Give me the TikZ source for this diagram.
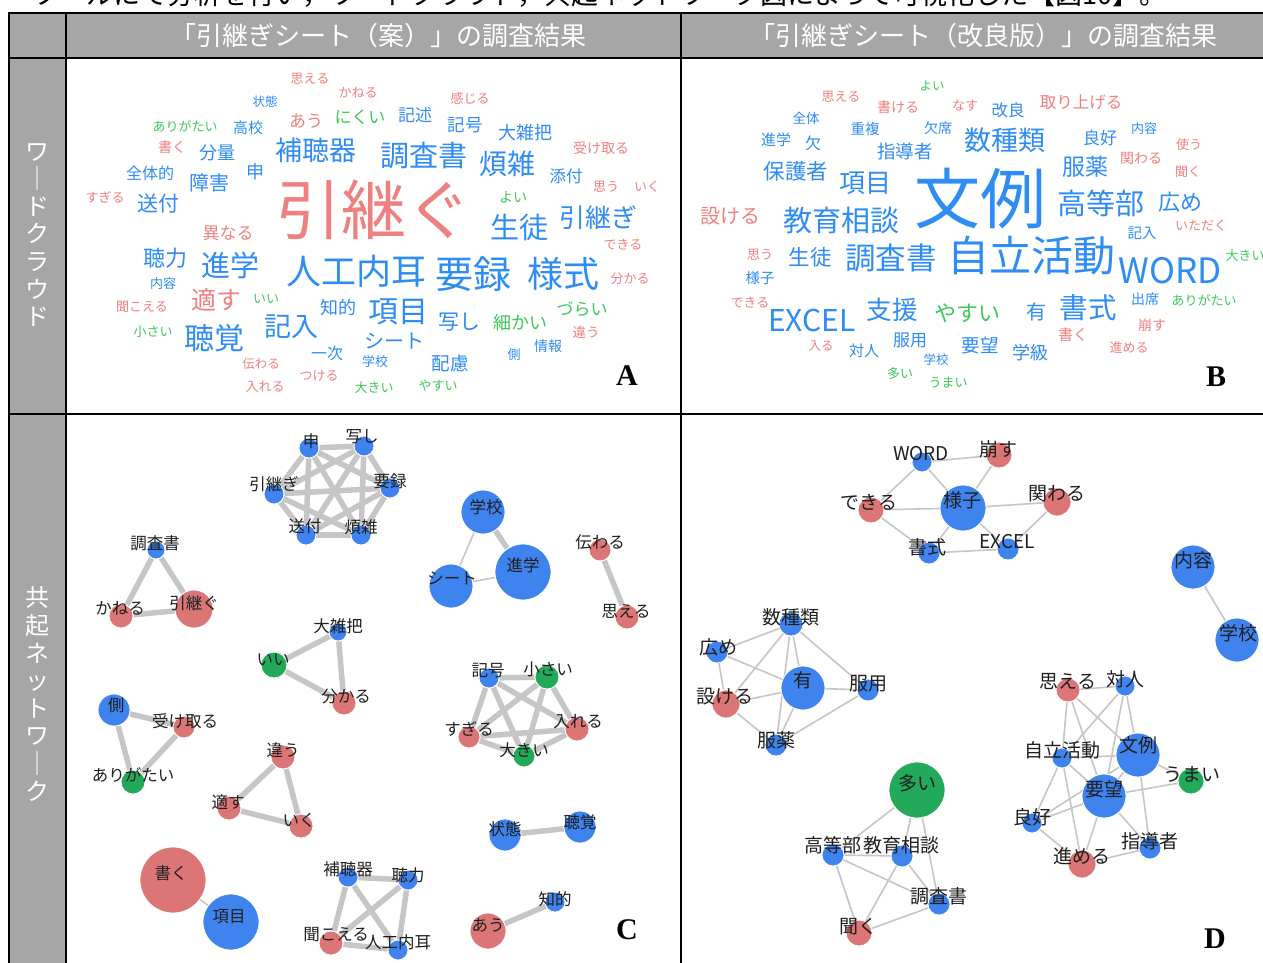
\documentclass[tikz,border=0pt]{standalone}
\usepackage{fontspec}
\newfontfamily\jp{Noto Sans CJK JP}
\newfontfamily\lserif{Liberation Serif}
\definecolor{hdgray}{HTML}{A6A6A6}
\definecolor{wblue}{HTML}{2E8CF5}
\definecolor{wred}{HTML}{F08080}
\definecolor{wgreen}{HTML}{3CC95A}
\definecolor{nblue}{HTML}{3F83EE}
\definecolor{nred}{HTML}{DC7676}
\definecolor{ngreen}{HTML}{22A95A}
\definecolor{edgegray}{HTML}{C6C6C6}
\pgfdeclarelayer{back}
\pgfdeclarelayer{edges}
\pgfsetlayers{back,edges,main}
\tikzset{
  wb/.style={font=\jp\fontsize{#1}{#1}\selectfont, text=wblue, inner sep=0pt},
  wr/.style={font=\jp\fontsize{#1}{#1}\selectfont, text=wred, inner sep=0pt},
  wg/.style={font=\jp\fontsize{#1}{#1}\selectfont, text=wgreen, inner sep=0pt},
  circ/.style={circle, inner sep=0pt, minimum size={2*#1pt}, draw=white, line width=0.8pt},
  lbl/.style={font=\jp\fontsize{16.5}{16.5}\selectfont, text=black!88, inner sep=0pt},
  lbld/.style={font=\jp\fontsize{19}{19}\selectfont, text=black!88, inner sep=0pt},
  ek/.style={draw=edgegray, line width=5.5pt},
  et/.style={draw=edgegray, line width=1.6pt},
  hd/.style={font=\jp\fontsize{26}{26}\selectfont, text=white, inner sep=0pt},
  side/.style={font=\jp\fontsize{24}{27.6}\selectfont, text=white, inner sep=0pt, align=center},
  plab/.style={font=\lserif\bfseries\fontsize{30}{30}\selectfont, inner sep=0pt},
  grid/.style={line width=2.6pt, draw=black}
}
\newcommand\cnode[8]{\node[circ=#4, fill=#5] (#1) at (#2,#3) {}; \node[lbl] (#1l) at (#7,#8) {#6};}
\newcommand\dnode[8]{\node[circ=#4, fill=#5] (#1) at (#2,#3) {}; \node[lbld] (#1l) at (#7,#8) {#6};}
\begin{document}
\begin{tikzpicture}[x=1pt,y=-1pt]
\useasboundingbox (0,0) rectangle (1263,963);
\begin{pgfonlayer}{back}
\fill[white] (0,0) rectangle (1263,963);
\fill[hdgray] (9,13) rectangle (1263,58);
\fill[hdgray] (9,58) rectangle (66,963);
\end{pgfonlayer}
% top running text (cut)
\node[anchor=base west, font=\jp\fontsize{27}{27}\selectfont, inner sep=0pt] (toptext) at (32,5) {ツールにて分析を行い，ワードクラウド，共起ネットワーク図によって可視化した【図10】。};
% headers
\node[hd] (h1) at (378,36) {「引継ぎシート（案）」の調査結果};
\node[hd] (h2) at (983,36) {「引継ぎシート（改良版）」の調査結果};
\node[side] (s1) at (37,235) {ワ\\｜\\ド\\ク\\ラ\\ウ\\ド};
\node[side] (s2) at (37,694) {共\\起\\ネ\\ッ\\ト\\ワ\\｜\\ク};
% ---------- word cloud A ----------
\node[wr=13] (a1) at (310,79) {思える};
\node[wr=13] (a2) at (358,93) {かねる};
\node[wr=13] (a3) at (470,98) {感じる};
\node[wb=12.5] (a4) at (265,102) {状態};
\node[wg=13] (a5) at (185,126) {ありがたい};
\node[wb=15] (a6) at (248,128) {高校};
\node[wr=17] (a7) at (306,121) {あう};
\node[wg=17] (a8) at (360,117) {にくい};
\node[wb=17] (a9) at (415,115) {記述};
\node[wb=17.5] (a10) at (465,125) {記号};
\node[wb=18] (a11) at (525,133) {大雑把};
\node[wr=14] (a12) at (601,148) {受け取る};
\node[wr=14] (a13) at (172,147) {書く};
\node[wb=18] (a14) at (217,153) {分量};
\node[wb=27] (a15) at (316,150) {補聴器};
\node[wb=29] (a16) at (424,156) {調査書};
\node[wb=28] (a17) at (507,164) {煩雑};
\node[wb=16.5] (a18) at (566,176) {添付};
\node[wb=16] (a19) at (150,173) {全体的};
\node[wb=18] (a20) at (255,172) {申};
\node[wb=20] (a21) at (209,183) {障害};
\node[wr=13] (a22) at (606,187) {思う};
\node[wr=13] (a23) at (647,187) {いく};
\node[wr=13] (a24) at (105,197) {すぎる};
\node[wb=21] (a25) at (158,204) {送付};
\node[wr=65] (a26) at (374,210) {引継ぐ};
\node[wg=14] (a27) at (513,197) {よい};
\node[wb=29] (a28) at (519,227) {生徒};
\node[wb=26] (a29) at (598,218) {引継ぎ};
\node[wr=13] (a30) at (623,245) {できる};
\node[wr=17] (a31) at (228,233) {異なる};
\node[wb=22] (a32) at (165,258) {聴力};
\node[wb=29] (a33) at (230,265) {進学};
\node[wb=35] (a34) at (356,271) {人工内耳};
\node[wb=38] (a35) at (473,274) {要録};
\node[wb=36] (a36) at (563,274) {様式};
\node[wr=13] (a37) at (630,279) {分かる};
\node[wb=13] (a38) at (163,284) {内容};
\node[wr=25] (a39) at (216,300) {適す};
\node[wg=13] (a40) at (266,299) {いい};
\node[wr=13] (a41) at (142,307) {聞こえる};
\node[wb=18] (a42) at (338,308) {知的};
\node[wb=30] (a43) at (398,312) {項目};
\node[wb=21] (a44) at (459,322) {写し};
\node[wg=18] (a45) at (520,323) {細かい};
\node[wg=17] (a46) at (582,309) {づらい};
\node[wr=13.5] (a47) at (586,332) {違う};
\node[wb=27] (a48) at (291,327) {記入};
\node[wg=13] (a49) at (153,332) {小さい};
\node[wb=30] (a50) at (214,338) {聴覚};
\node[wb=20] (a51) at (394,341) {シート};
\node[wb=16] (a52) at (327,353) {一次};
\node[wb=14] (a53) at (548,346) {情報};
\node[wb=13] (a54) at (514,355) {側};
\node[wb=13] (a55) at (375,362) {学校};
\node[wb=18.5] (a56) at (450,363) {配慮};
\node[wr=12.5] (a57) at (261,364) {伝わる};
\node[wr=13] (a58) at (319,376) {つける};
\node[wr=13] (a59) at (265,387) {入れる};
\node[wg=13] (a60) at (374,388) {大きい};
\node[wg=13] (a61) at (438,386) {やすい};
\node[plab] (pA) at (627,376) {A};
% ---------- word cloud B ----------
\node[wg=12.5] (b1) at (932,86) {よい};
\node[wr=13] (b2) at (841,97) {思える};
\node[wr=14] (b3) at (898,107) {書ける};
\node[wr=13] (b4) at (965,106) {なす};
\node[wb=16.5] (b5) at (1008,110) {改良};
\node[wr=16.5] (b6) at (1081,102) {取り上げる};
\node[wb=13.5] (b7) at (806,118) {全体};
\node[wb=14.5] (b8) at (865,129) {重複};
\node[wb=14] (b9) at (938,128) {欠席};
\node[wb=13] (b10) at (1144,129) {内容};
\node[wb=15] (b11) at (776,140) {進学};
\node[wb=16] (b12) at (813,143) {欠};
\node[wb=18.5] (b13) at (905,151) {指導者};
\node[wb=27] (b14) at (1005,140) {数種類};
\node[wb=17] (b15) at (1100,138) {良好};
\node[wr=13] (b16) at (1189,145) {使う};
\node[wr=14] (b17) at (1141,158) {関わる};
\node[wb=21.5] (b18) at (796,171) {保護者};
\node[wb=23] (b19) at (1085,167) {服薬};
\node[wr=13] (b20) at (1188,172) {聞く};
\node[wb=26] (b21) at (865,183) {項目};
\node[wb=66] (b22) at (980,198) {文例};
\node[wb=29] (b23) at (1101,203) {高等部};
\node[wb=22] (b24) at (1180,202) {広め};
\node[wr=13] (b25) at (1201,226) {いただく};
\node[wr=20] (b26) at (730,216) {設ける};
\node[wb=29] (b27) at (841,221) {教育相談};
\node[wb=14.5] (b28) at (1142,233) {記入};
\node[wr=13] (b29) at (760,255) {思う};
\node[wb=21.5] (b30) at (810,257) {生徒};
\node[wb=30.5] (b31) at (891,258) {調査書};
\node[wb=42] (b32) at (1031,256) {自立活動};
\node[wb=35] (b33) at (1170,271) {WORD};
\node[wg=13] (b34) at (1245,256) {大きい};
\node[wb=14.5] (b35) at (760,278) {様子};
\node[wr=13] (b36) at (750,303) {できる};
\node[wb=25.5] (b37) at (892,310) {支援};
\node[wg=22] (b38) at (967,313) {やすい};
\node[wb=20] (b39) at (1036,312) {有};
\node[wb=28.5] (b40) at (1088,308) {書式};
\node[wb=14] (b41) at (1145,299) {出席};
\node[wg=13] (b42) at (1204,300) {ありがたい};
\node[wb=30] (b43) at (812,321) {EXCEL};
\node[wr=14] (b44) at (1152,325) {崩す};
\node[wr=15] (b45) at (1073,335) {書く};
\node[wb=17] (b46) at (910,340) {服用};
\node[wr=12.5] (b47) at (821,346) {入る};
\node[wb=15] (b48) at (864,351) {対人};
\node[wb=18.5] (b49) at (980,345) {要望};
\node[wb=18] (b50) at (1030,353) {学級};
\node[wr=13] (b51) at (1129,348) {進める};
\node[wb=12.5] (b52) at (936,360) {学校};
\node[wg=13] (b53) at (900,374) {多い};
\node[wg=13] (b54) at (948,383) {うまい};
\node[plab] (pB) at (1216,377) {B};
% ---------- network C ----------
\cnode{cA}{309}{448}{10}{nblue}{申}{311}{441}
\cnode{cB}{364}{446}{10}{nblue}{写し}{362}{437}
\cnode{cC}{390}{488}{10}{nblue}{要録}{390}{481}
\cnode{cD}{361}{535}{10}{nblue}{煩雑}{361}{527}
\cnode{cE}{306}{535}{10}{nblue}{送付}{305}{526}
\cnode{cF}{274}{494}{10}{nblue}{引継ぎ}{274}{484}
\cnode{cG}{156}{550}{9}{nblue}{調査書}{155}{543}
\cnode{cH}{121}{616}{12}{nred}{かねる}{120}{608}
\cnode{cI}{194}{609}{19}{nred}{引継ぐ}{194}{603}
\cnode{cJ}{483}{512}{22}{nblue}{学校}{486}{507}
\cnode{cK}{523}{572}{28}{nblue}{進学}{523}{565}
\cnode{cL}{451}{586}{22}{nblue}{シート}{452}{578}
\cnode{cM}{600}{550}{11}{nred}{伝わる}{600}{542}
\cnode{cN}{627}{617}{12}{nred}{思える}{626}{611}
\cnode{cO}{338}{632}{9}{nblue}{大雑把}{338}{626}
\cnode{cP}{274}{665}{13}{ngreen}{いい}{273}{660}
\cnode{cQ}{344}{703}{12}{nred}{分かる}{346}{696}
\cnode{cR}{489}{678}{10}{nblue}{記号}{488}{671}
\cnode{cS}{547}{677}{12}{ngreen}{小さい}{548}{669}
\cnode{cT}{577}{729}{12}{nred}{入れる}{578}{722}
\cnode{cU}{524}{756}{11}{ngreen}{大きい}{524}{750}
\cnode{cV}{469}{737}{11}{nred}{すぎる}{469}{729}
\cnode{cW}{114}{710}{16}{nblue}{側}{116}{705}
\cnode{cX}{184}{727}{11}{nred}{受け取る}{185}{721}
\cnode{cY}{133}{782}{12}{ngreen}{ありがたい}{133}{775}
\cnode{cZ}{283}{757}{12}{nred}{違う}{283}{750}
\cnode{ca}{229}{808}{12}{nred}{適す}{228}{802}
\cnode{cb}{301}{826}{12}{nred}{いく}{299}{820}
\cnode{cc}{505}{835}{16}{nblue}{状態}{505}{829}
\cnode{cd}{580}{827}{16}{nblue}{聴覚}{580}{822}
\cnode{ce}{173}{880}{33}{nred}{書く}{171}{873}
\cnode{cf}{231}{922}{28}{nblue}{項目}{229}{917}
\cnode{cg}{348}{877}{10}{nblue}{補聴器}{348}{869}
\cnode{ch}{408}{880}{10}{nblue}{聴力}{408}{875}
\cnode{ci}{331}{943}{12}{nred}{聞こえる}{336}{935}
\cnode{cj}{398}{950}{10}{nblue}{人工内耳}{398}{942}
\cnode{ck}{488}{931}{18}{nred}{あう}{488}{925}
\cnode{cl}{555}{902}{10}{nblue}{知的}{555}{899}
\node[plab] (pC) at (627,930) {C};
% ---------- network D ----------
\dnode{dA}{922}{462}{10}{nblue}{WORD}{921}{454}
\dnode{dB}{999}{455}{13}{nred}{崩す}{998}{449}
\dnode{dC}{963}{508}{23}{nblue}{様子}{962}{500}
\dnode{dD}{871}{510}{13}{nred}{できる}{869}{502}
\dnode{dE}{1057}{502}{14}{nred}{関わる}{1057}{494}
\dnode{dF}{929}{553}{11}{nblue}{書式}{927}{547}
\dnode{dG}{1008}{549}{11}{nblue}{EXCEL}{1007}{542}
\dnode{dH}{1193}{567}{22}{nblue}{内容}{1193}{560}
\dnode{dI}{1237}{640}{22}{nblue}{学校}{1238}{633}
\dnode{dJ}{791}{624}{12}{nblue}{数種類}{791}{617}
\dnode{dK}{717}{652}{11}{nblue}{広め}{718}{647}
\dnode{dL}{803}{688}{22}{nblue}{有}{803}{680}
\dnode{dM}{868}{690}{11}{nblue}{服用}{868}{684}
\dnode{dN}{726}{704}{14}{nred}{設ける}{725}{697}
\dnode{dO}{776}{745}{11}{nblue}{服薬}{776}{740}
\dnode{dP}{1068}{690}{12}{nred}{思える}{1068}{681}
\dnode{dQ}{1125}{686}{10}{nblue}{対人}{1125}{679}
\dnode{dR}{1062}{758}{10}{nblue}{自立活動}{1062}{750}
\dnode{dS}{1138}{755}{22}{nblue}{文例}{1138}{745}
\dnode{dT}{1191}{781}{13}{ngreen}{うまい}{1192}{774}
\dnode{dU}{1104}{796}{22}{nblue}{要望}{1104}{789}
\dnode{dV}{1032}{823}{10}{nblue}{良好}{1032}{817}
\dnode{dW}{1150}{848}{11}{nblue}{指導者}{1150}{841}
\dnode{dX}{1082}{864}{14}{nred}{進める}{1082}{856}
\dnode{dY}{917}{790}{28}{ngreen}{多い}{917}{783}
\dnode{dZ}{833}{855}{11}{nblue}{高等部}{833}{845}
\dnode{da}{902}{856}{11}{nblue}{教育相談}{901}{845}
\dnode{db}{939}{904}{11}{nblue}{調査書}{939}{896}
\dnode{dc}{859}{933}{13}{nred}{聞く}{858}{927}
\node[plab] (pD) at (1215,939) {D};
% ---------- edges ----------
\begin{pgfonlayer}{edges}
\foreach \u/\v in {cA/cB,cA/cC,cA/cD,cA/cE,cA/cF,cB/cC,cB/cD,cB/cE,cB/cF,cC/cD,cC/cE,cC/cF,cD/cE,cD/cF,cE/cF}
  \draw[ek] (\u) -- (\v);
\foreach \u/\v in {cG/cH,cG/cI,cH/cI,cJ/cK,cM/cN,cO/cP,cO/cQ,cP/cQ,
  cR/cS,cR/cT,cR/cU,cR/cV,cS/cT,cS/cU,cS/cV,cT/cU,cT/cV,cU/cV,
  cW/cX,cW/cY,cX/cY,cZ/ca,cZ/cb,ca/cb,cc/cd,
  cg/ch,cg/ci,cg/cj,ch/ci,ch/cj,ci/cj,ck/cl}
  \draw[ek] (\u) -- (\v);
\foreach \u/\v in {cJ/cL,cL/cK,ce/cf}
  \draw[et] (\u) -- (\v);
\foreach \u/\v in {dA/dB,dA/dC,dB/dC,dD/dC,dE/dC,dF/dC,dG/dC,dF/dG,dA/dD,dF/dD,dE/dG,
  dH/dI,
  dJ/dK,dJ/dL,dJ/dM,dJ/dN,dJ/dO,dK/dL,dK/dN,dN/dL,dN/dO,dL/dM,dL/dO,dO/dM,
  dP/dQ,dP/dR,dP/dS,dP/dU,dQ/dR,dQ/dS,dQ/dU,dR/dS,dR/dU,dR/dV,dR/dX,dS/dU,dS/dT,
  dU/dT,dU/dV,dU/dW,dU/dX,dS/dW,dV/dX,dW/dX,dS/dV,
  dY/dZ,dY/da,dY/db,dZ/da,dZ/db,dZ/dc,da/db,da/dc,db/dc}
  \draw[et] (\u) -- (\v);
\end{pgfonlayer}
% ---------- grid ----------
\draw[grid] (9,13) -- (1263,13);
\draw[grid] (9,58) -- (1263,58);
\draw[grid] (9,414) -- (1263,414);
\draw[grid] (9,12) -- (9,963);
\draw[grid] (66,13) -- (66,963);
\draw[grid] (681,13) -- (681,963);
\end{tikzpicture}
\end{document}
